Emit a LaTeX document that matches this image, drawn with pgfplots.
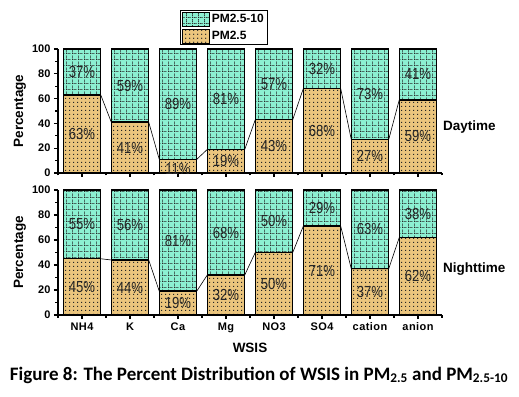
\documentclass[border=0pt]{standalone}
\usepackage{pgfplots}
\pgfplotsset{compat=1.18}
\usepackage{fontspec}
\setmainfont{Liberation Sans}
\newfontfamily\capfont{Carlito}
\newfontfamily\narrowfont[FakeStretch=0.82]{Liberation Sans}
\newfontfamily\spacedfont[LetterSpace=4]{Liberation Sans}
\usetikzlibrary{patterns}
\definecolor{cyanc}{RGB}{140,240,210}
\definecolor{tanc}{RGB}{235,197,125}
\pgfdeclarepatternformonly{dotgrid}{\pgfpointorigin}{\pgfpoint{6pt}{6pt}}{\pgfpoint{6pt}{6pt}}{%
\pgfpathrectangle{\pgfpoint{0pt}{0pt}}{\pgfpoint{1pt}{1pt}}%
\pgfpathrectangle{\pgfpoint{2pt}{0pt}}{\pgfpoint{1pt}{1pt}}%
\pgfpathrectangle{\pgfpoint{4pt}{0pt}}{\pgfpoint{1pt}{1pt}}%
\pgfpathrectangle{\pgfpoint{0pt}{2pt}}{\pgfpoint{1pt}{1pt}}%
\pgfpathrectangle{\pgfpoint{0pt}{4pt}}{\pgfpoint{1pt}{1pt}}%
\pgfusepath{fill}}
\pgfdeclarepatternformonly{smalldots}{\pgfpointorigin}{\pgfpoint{4pt}{4pt}}{\pgfpoint{4pt}{4pt}}{%
\pgfpathrectangle{\pgfpoint{1.5pt}{1.5pt}}{\pgfpoint{1pt}{1pt}}%
\pgfusepath{fill}}
\pgfplotsset{
 myax/.style={
  scale only axis, width=384pt,
  xmin=-0.5, xmax=7.5, ymin=0, ymax=100,
  axis x line*=bottom, axis y line*=left,
  axis line style={line width=1.5pt,-},
  tick style={line width=1.3pt,black},
  tick align=outside, major tick length=4pt, minor tick length=2.5pt,
  xtick={0,...,7}, minor xtick={-0.5,0.5,...,7.5},
  ytick={0,20,...,100}, minor ytick={10,30,...,90},
  yticklabel style={font=\bfseries\fontsize{11}{13}\selectfont},
  xticklabel style={font=\spacedfont\bfseries\fontsize{11}{13}\selectfont},
  /pgf/number format/assume math mode=true,
  clip=false,
  ylabel={Percentage},
  every axis y label/.style={at={(rel axis cs:0,0.5)}, xshift=-38pt, rotate=90, anchor=center, font=\bfseries\fontsize{13.5}{15}\selectfont},
 },
 cbar/.style={ybar, bar width=0.78, bar shift=0pt, draw=black, line width=1.5pt, fill=cyanc, postaction={pattern=dotgrid, pattern color=black!85},
  legend image code/.code={\draw[line width=0.8pt, fill=cyanc, postaction={pattern=dotgrid, pattern color=black!85}] (0pt,-7pt) rectangle (27pt,7pt);}},
 tbar/.style={ybar, bar width=0.78, bar shift=0pt, draw=black, line width=1.5pt, fill=tanc, postaction={pattern=smalldots, pattern color=black!85},
  legend image code/.code={\draw[line width=0.8pt, fill=tanc, postaction={pattern=smalldots, pattern color=black!85}] (0pt,-7pt) rectangle (27pt,7pt);}},
 conn/.style={sharp plot, black, line width=0.6pt, mark=none, forget plot},
 labs/.style={only marks, mark=none, forget plot, nodes near coords, point meta=explicit symbolic,
  nodes near coords style={anchor=center, inner sep=0pt, font=\narrowfont\fontsize{16}{18}\selectfont, text=black!85}},
}
\begin{document}
\begin{tikzpicture}
\path[use as bounding box] (0,0) rectangle (519pt,396pt);
% Daytime
\begin{axis}[myax, height=124pt, at={(58pt,223pt)}, anchor=south west,
  xticklabels={},
  legend style={at={(0.318,1.03)}, anchor=south west, draw=black, line width=0.8pt, font=\bfseries\fontsize{12}{14}\selectfont, inner sep=1.5pt, row sep=2pt, cells={anchor=west}},
  ]
\addplot[cbar] coordinates {(0,100) (1,100) (2,100) (3,100) (4,100) (5,100) (6,100) (7,100)};
\addlegendentry{PM2.5-10}
\addplot[tbar] coordinates {(0,63) (1,41) (2,11) (3,19) (4,43) (5,68) (6,27) (7,59)};
\addlegendentry{PM2.5}
\addplot[conn] coordinates {(0.39,63) (0.61,41) (1.39,41) (1.61,11) (2.39,11) (2.61,19) (3.39,19) (3.61,43) (4.39,43) (4.61,68) (5.39,68) (5.61,27) (6.39,27) (6.61,59)};
\addplot[labs] coordinates {(0,31.5) [63\%] (1,20.5) [41\%] (2,3) [11\%] (3,9.5) [19\%] (4,21.5) [43\%] (5,34) [68\%] (6,13.5) [27\%] (7,29.5) [59\%]};
\addplot[labs] coordinates {(0,81.5) [37\%] (1,70.5) [59\%] (2,55.5) [89\%] (3,59.5) [81\%] (4,71.5) [57\%] (5,84) [32\%] (6,63.5) [73\%] (7,79.5) [41\%]};
\end{axis}
% Nighttime
\begin{axis}[myax, height=125pt, at={(58pt,81pt)}, anchor=south west,
  xticklabels={NH4,K,Ca,Mg,NO3,SO4,cation,anion},
  xlabel={WSIS},
  every axis x label/.style={at={(rel axis cs:0.5,0)}, yshift=-33pt, anchor=center, font=\bfseries\fontsize{13.5}{15}\selectfont},
  ]
\addplot[cbar] coordinates {(0,100) (1,100) (2,100) (3,100) (4,100) (5,100) (6,100) (7,100)};
\addplot[tbar] coordinates {(0,45) (1,44) (2,19) (3,32) (4,50) (5,71) (6,37) (7,62)};
\addplot[conn] coordinates {(0.39,45) (0.61,44) (1.39,44) (1.61,19) (2.39,19) (2.61,32) (3.39,32) (3.61,50) (4.39,50) (4.61,71) (5.39,71) (5.61,37) (6.39,37) (6.61,62)};
\addplot[labs] coordinates {(0,22.5) [45\%] (1,22) [44\%] (2,9.5) [19\%] (3,16) [32\%] (4,25) [50\%] (5,35.5) [71\%] (6,18.5) [37\%] (7,31) [62\%]};
\addplot[labs] coordinates {(0,72.5) [55\%] (1,72) [56\%] (2,59.5) [81\%] (3,66) [68\%] (4,75) [50\%] (5,85.5) [29\%] (6,68.5) [63\%] (7,81) [38\%]};
\end{axis}
\node[anchor=west, font=\bfseries\fontsize{13.5}{15}\selectfont, inner sep=0pt] at (443pt,269pt) {Daytime};
\node[anchor=west, font=\bfseries\fontsize{13.5}{15}\selectfont, inner sep=0pt] at (443pt,127pt) {Nighttime};
\node[anchor=center, font=\capfont\bfseries\fontsize{19}{22}\selectfont, inner sep=0pt] at (259pt,21pt) {Figure 8: The Percent Distribution of WSIS in PM\textsubscript{2.5} and PM\textsubscript{2.5-10}};
\end{tikzpicture}
\end{document}
